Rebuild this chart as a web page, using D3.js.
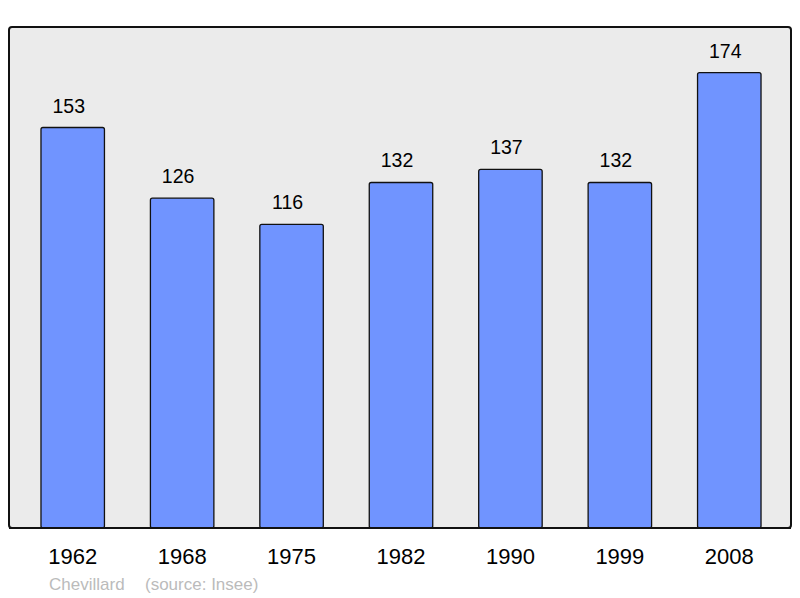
<!DOCTYPE html>
<html>
<head>
<meta charset="utf-8">
<script src="https://cdn.jsdelivr.net/npm/d3@7"></script>
<style>
  body { margin: 0; background: #fff; }
  text { font-family: "Liberation Sans", Arial, sans-serif; }
</style>
</head>
<body>
<div id="plot"></div>
<script>
const width = 800
const height = 598

// data
const years = ['1962', '1968', '1975', '1982', '1990', '1999', '2008']
const population = [153, 126, 116, 132, 137, 132, 174]
const credit = 'Chevillard'
const source = '(source: Insee)'

const frame = {left: 9, top: 27, right: 791, bottom: 528}

const svg = d3.select('div#plot').append('svg')
    .attr('width', width)
    .attr('height', height)
    .attr('viewBox', [0, 0, width, height])

// background frame
svg.append('rect')
    .attr('x', frame.left)
    .attr('y', frame.top)
    .attr('width', frame.right - frame.left)
    .attr('height', frame.bottom - frame.top)
    .attr('rx', 3)
    .attr('fill', '#ebebeb')
    .attr('stroke', '#111')
    .attr('stroke-width', 2)

const xScale = d3.scaleBand()
    .domain(years)
    .range([18, 784])
    .paddingInner(0.42)
    .paddingOuter(0.21)

const yScale = d3.scaleLinear()
    .domain([0, d3.max(population) * 1.1])
    .range([frame.bottom, frame.top])

const bars = svg.append('g')
    .selectAll('g')
    .data(years)
    .enter()
    .append('g')

bars.append('rect')
    .attr('x', d => xScale(d))
    .attr('y', (d, i) => yScale(population[i]))
    .attr('width', xScale.bandwidth())
    .attr('height', (d, i) => frame.bottom - yScale(population[i]))
    .attr('rx', 2)
    .attr('fill', '#7094ff')
    .attr('stroke', '#111')
    .attr('stroke-width', 1.3)

// value labels sit a little left of the bar centre in the original
bars.append('text')
    .attr('x', d => xScale(d) + xScale.bandwidth() / 2 - 4)
    .attr('y', (d, i) => yScale(population[i]) - 15)
    .attr('text-anchor', 'middle')
    .attr('font-size', 19.5)
    .attr('fill', '#000')
    .text((d, i) => population[i])

// year labels
svg.append('g')
    .attr('transform', 'translate(0,' + frame.bottom + ')')
    .call(d3.axisBottom(xScale).tickSize(0).tickPadding(20))
    .call(g => g.select('.domain').remove())
    .call(g => g.selectAll('text')
        .attr('font-size', 22)
        .attr('font-family', '"Liberation Sans", Arial, sans-serif')
        .attr('fill', '#000'))

// redraw the bottom frame edge over the bars
svg.append('line')
    .attr('x1', frame.left)
    .attr('x2', frame.right)
    .attr('y1', frame.bottom)
    .attr('y2', frame.bottom)
    .attr('stroke', '#111')
    .attr('stroke-width', 2)

svg.append('text')
    .attr('x', 49)
    .attr('y', 590)
    .attr('font-size', 17)
    .attr('fill', '#bbb')
    .text(credit)

svg.append('text')
    .attr('x', 145)
    .attr('y', 590)
    .attr('font-size', 17)
    .attr('fill', '#bbb')
    .text(source)
</script>
</body>
</html>
